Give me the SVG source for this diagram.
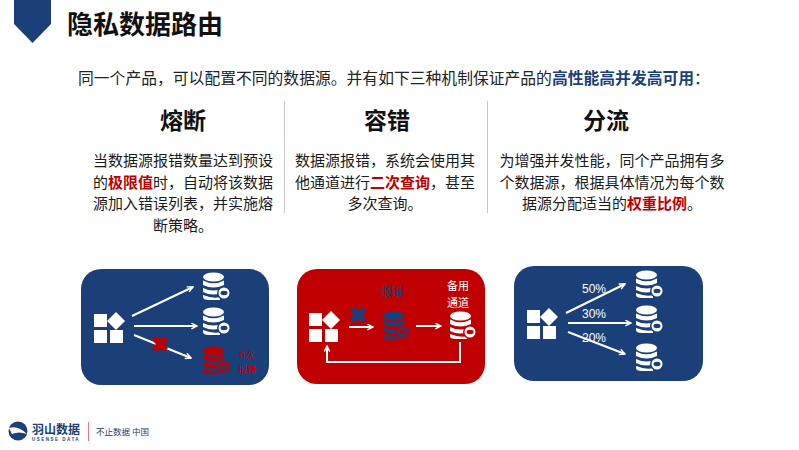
<svg xmlns="http://www.w3.org/2000/svg" width="799" height="450" viewBox="0 0 799 450">
<style>
text{font-family:"Noto Sans CJK SC","Liberation Sans",sans-serif}
.h{font-size:23px;font-weight:700;fill:#111;text-anchor:middle}
.b{font-size:15px;fill:#1a1a1a;text-anchor:middle}
.r{fill:#c00000;font-weight:700}
.n{fill:#1b3f78;font-weight:700}
.a{fill:none;stroke:#fff;stroke-width:2;marker-end:url(#arr)}
.s{font-family:"Liberation Sans",sans-serif;font-size:12px;fill:#fff;text-anchor:middle}
.xm{fill:none;stroke-width:6}
</style>
<defs>
<marker id="arr" viewBox="0 0 10 10" refX="9" refY="5" markerWidth="7" markerHeight="7" orient="auto" markerUnits="userSpaceOnUse"><path d="M1 1L9 5L1 9" fill="none" stroke="#fff" stroke-width="2"/></marker>
<g id="grid" fill="#fff">
<rect x="0" y="0" width="13" height="13"/>
<path d="M22 -2L31 7L22 16L13 7Z"/>
<rect x="0" y="16" width="13" height="13"/>
<rect x="16" y="16" width="13" height="13"/>
</g>
<g id="db">
<ellipse cx="10.500" cy="4" rx="10.500" ry="4.500"/>
<path d="M0 7.500Q10.500 13 21 7.500V12Q10.500 17 0 12Z"/>
<path d="M0 15Q10.500 20 21 15V19Q10.500 24 0 19Z"/>
<path d="M0 22Q10.500 26 17 24V27H6Q0 27 0 24Z"/>
</g>
<path id="x" d="M-6 -6L6 6M6 -6L-6 6"/>
</defs>
<rect width="799" height="450" fill="#fff"/>
<g id="header">
<path d="M14 0H51V24L32.500 43L14 24Z" fill="#1b3f78"/>
<text x="67" y="34" font-size="26" font-weight="700" fill="#111">隐私数据路由</text>
</g>
<text id="intro" x="78" y="84" font-size="15.800" fill="#222">同一个产品，可以配置不同的数据源。并有如下三种机制保证产品的<tspan class="n">高性能高并发高可用</tspan>：</text>
<g id="dividers" stroke="#c8c8c8" stroke-width="1">
<line x1="284.500" y1="101" x2="284.500" y2="213"/>
<line x1="487.500" y1="101" x2="487.500" y2="213"/>
</g>
<g id="col1">
<text class="h" x="183" y="129">熔断</text>
<text class="b" x="183" y="166">当数据源报错数量达到预设</text>
<text class="b" x="183" y="188">的<tspan class="r">极限值</tspan>时，自动将该数据</text>
<text class="b" x="183" y="209">源加入错误列表，并实施熔</text>
<text class="b" x="183" y="231">断策略。</text>
</g>
<g id="col2">
<text class="h" x="387" y="129">容错</text>
<text class="b" x="385" y="166">数据源报错，系统会使用其</text>
<text class="b" x="385" y="188">他通道进行<tspan class="r">二次查询</tspan>，甚至</text>
<text class="b" x="385" y="209">多次查询。</text>
</g>
<g id="col3">
<text class="h" x="606" y="129">分流</text>
<text class="b" x="612" y="166">为增强并发性能，同个产品拥有多</text>
<text class="b" x="612" y="188">个数据源，根据具体情况为每个数</text>
<text class="b" x="612" y="209">据源分配适当的<tspan class="r">权重比例</tspan>。</text>
</g>
<g id="card1">
<rect x="81" y="269" width="188" height="116" rx="20" fill="#1b3f78"/>
<use href="#grid" x="94" y="314"/>
<g fill="#fff"><use href="#db" x="203" y="273"/><use href="#db" x="203" y="308"/></g>
<g fill="#c00000"><use href="#db" x="203" y="347"/></g>
<g id="eyes1">
<circle cx="224" cy="293" r="7" fill="#1b3f78"/><circle cx="224" cy="293" r="5.500" fill="#fff"/><ellipse cx="224" cy="293" rx="3.500" ry="2.200" fill="#1b3f78"/>
<circle cx="224" cy="328" r="7" fill="#1b3f78"/><circle cx="224" cy="328" r="5.500" fill="#fff"/><ellipse cx="224" cy="328" rx="3.500" ry="2.200" fill="#1b3f78"/>
<circle cx="224" cy="367" r="7" fill="#1b3f78"/><circle cx="224" cy="367" r="5.500" fill="#c00000"/><ellipse cx="224" cy="367" rx="3.500" ry="2.200" fill="#1b3f78"/>
</g>
<g font-size="9.500" fill="#c00000" text-anchor="middle"><text x="247" y="358">n次</text><text x="247" y="373">报错</text></g>
</g>
<g id="card2">
<rect x="297" y="269" width="188" height="115" rx="20" fill="#c00000"/>
<use href="#grid" x="309" y="313"/>
<g fill="#1b3f78"><use href="#db" x="383" y="312"/></g>
<g fill="#fff"><use href="#db" x="450" y="312"/></g>
<circle cx="403" cy="332" r="7" fill="#c00000"/><circle cx="403" cy="332" r="5.500" fill="#1b3f78"/><ellipse cx="403" cy="332" rx="3.500" ry="2.200" fill="#c00000"/>
<circle cx="470" cy="332" r="7" fill="#c00000"/><circle cx="470" cy="332" r="5.500" fill="#fff"/><ellipse cx="470" cy="332" rx="3.500" ry="2.200" fill="#c00000"/>
<text x="392" y="296" font-size="11" fill="#1b3f78" text-anchor="middle">报错</text>
<g font-size="11" fill="#fff" text-anchor="middle"><text x="458" y="290">备用</text><text x="458" y="307">通道</text></g>
</g>
<g id="card3">
<rect x="514" y="266" width="189" height="115" rx="20" fill="#1b3f78"/>
<use href="#grid" x="527" y="310"/>
<g fill="#fff"><use href="#db" x="636" y="271"/><use href="#db" x="636" y="306"/><use href="#db" x="636" y="344"/></g>
<g id="eyes3">
<circle cx="657" cy="291" r="7" fill="#1b3f78"/><circle cx="657" cy="291" r="5.500" fill="#fff"/><ellipse cx="657" cy="291" rx="3.500" ry="2.200" fill="#1b3f78"/>
<circle cx="657" cy="326" r="7" fill="#1b3f78"/><circle cx="657" cy="326" r="5.500" fill="#fff"/><ellipse cx="657" cy="326" rx="3.500" ry="2.200" fill="#1b3f78"/>
<circle cx="657" cy="364" r="7" fill="#1b3f78"/><circle cx="657" cy="364" r="5.500" fill="#fff"/><ellipse cx="657" cy="364" rx="3.500" ry="2.200" fill="#1b3f78"/>
</g>
<text class="s" x="594" y="293">50%</text>
<text class="s" x="594" y="318">30%</text>
<text class="s" x="594" y="342">20%</text>
</g>
<g id="connectors">
<path class="a" d="M132 316L193 287"/>
<path class="a" d="M134 326H197"/>
<path class="a" d="M134 335L191 358"/>
<use href="#x" x="160" y="344" class="xm" stroke="#c00000"/>
<path class="a" d="M349 327H373"/>
<use href="#x" x="358" y="315" class="xm" stroke="#1b3f78"/>
<path class="a" d="M416 326H441"/>
<path class="a" d="M460 342V362H327V346"/>
<path class="a" d="M566 313L625 284"/>
<path class="a" d="M568 323H631"/>
<path class="a" d="M568 332L625 354"/>
</g>
<g id="footer">
<circle cx="18" cy="431" r="9.500" fill="#1b3f78"/>
<path d="M9 428Q18 425 27 434Q19 431 12 434Z" fill="#fff"/>
<text x="32" y="434" font-size="12" font-weight="700" fill="#1b3f78">羽山数据</text>
<text x="32" y="440.500" font-size="4.500" font-weight="700" fill="#1b3f78" letter-spacing="1.500" style="font-family:'Liberation Sans',sans-serif">USENSE DATA</text>
<line x1="88.500" y1="422" x2="88.500" y2="441" stroke="#e08070" stroke-width="1"/>
<text x="96" y="435" font-size="8.500" fill="#1b3f78">不止数据 中国</text>
</g>
</svg>
